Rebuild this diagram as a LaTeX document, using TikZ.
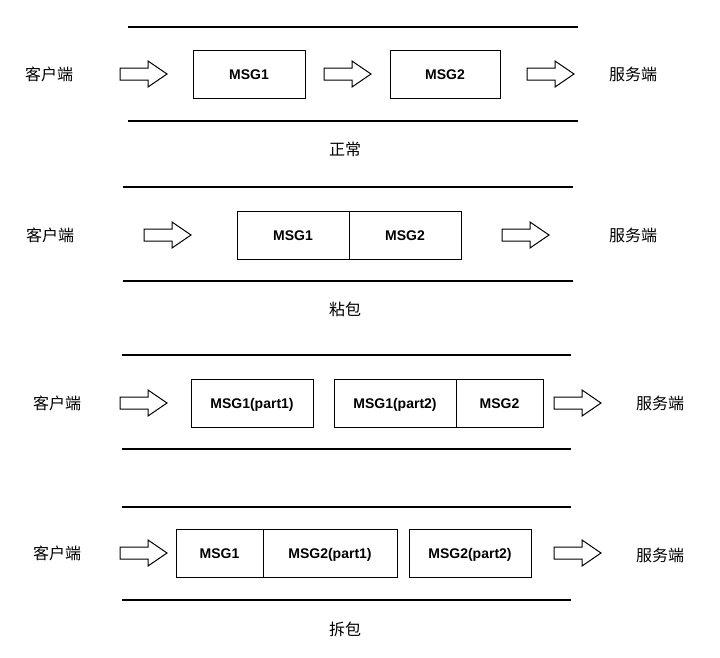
\documentclass[tikz,border=0pt]{standalone}
\usepackage{fontspec}
\setmainfont{Liberation Sans}
\newfontfamily\cjk{Noto Sans CJK SC}
\usetikzlibrary{calc}
\begin{document}
\begin{tikzpicture}[x=1pt,y=-1pt,
  lane/.style={line width=1.6pt},
  msg/.style={draw,line width=1pt,minimum height=48pt,inner sep=0pt,text height=10pt,text depth=0pt,font=\bfseries\fontsize{14}{16}\selectfont},
  harrow/.style={draw,line width=1pt,line join=miter},
  lbl/.style={font=\cjk\fontsize{16}{18}\selectfont}]
\newcommand\harr[1]{\draw[harrow] ($(#1)+(-24,-6)$) -- ++(28,0) -- ++(0,-7) -- ++(19,13) -- ++(-19,13) -- ++(0,-7) -- ++(-28,0) -- cycle;}
\useasboundingbox (0,0) rectangle (720,657);
% row 1
\draw[lane] (128,27) -- (578,27); \draw[lane] (128,121) -- (578,121);
\node[lbl] (c1) at (49,74) {客户端};
\coordinate (a11) at (144,74); \coordinate (a12) at (348,74); \coordinate (a13) at (551,74);
\harr{a11}\harr{a12}\harr{a13}
\node[msg,minimum width=112pt] (m11) at (249,74) {MSG1};
\node[msg,minimum width=110pt] (m12) at (445,74) {MSG2};
\node[lbl] (s1) at (633,74) {服务端};
\node[lbl] (t1) at (345,149) {正常};
% row 2
\draw[lane] (123,187) -- (573,187); \draw[lane] (123,281) -- (573,281);
\node[lbl] (c2) at (50,235) {客户端};
\coordinate (a21) at (168,235); \coordinate (a22) at (526,235);
\harr{a21}\harr{a22}
\node[msg,minimum width=112pt] (m21) at (293,235) {MSG1};
\node[msg,minimum width=112pt] (m22) at (405,235) {MSG2};
\node[lbl] (s2) at (633,235) {服务端};
\node[lbl] (t2) at (345,309) {粘包};
% row 3
\draw[lane] (122,355) -- (571,355); \draw[lane] (122,449) -- (571,449);
\node[lbl] (c3) at (57,403) {客户端};
\coordinate (a31) at (144,403); \coordinate (a32) at (578,403);
\harr{a31}\harr{a32}
\node[msg,minimum width=122pt] (m31) at (252,403) {MSG1(part1)};
\node[msg,minimum width=122pt] (m32) at (395,403) {MSG1(part2)};
\node[msg,minimum width=87pt] (m33) at (499.5,403) {MSG2};
\node[lbl] (s3) at (660,403) {服务端};
% row 4
\draw[lane] (122,507) -- (571,507); \draw[lane] (122,600) -- (571,600);
\node[lbl] (c4) at (57,553) {客户端};
\coordinate (a41) at (144,553); \coordinate (a42) at (578,553);
\harr{a41}\harr{a42}
\node[msg,minimum width=87pt] (m41) at (219.5,553) {MSG1};
\node[msg,minimum width=134pt] (m42) at (330,553) {MSG2(part1)};
\node[msg,minimum width=122pt] (m43) at (470,553) {MSG2(part2)};
\node[lbl] (s4) at (660,555) {服务端};
\node[lbl] (t4) at (345,629) {拆包};
\end{tikzpicture}
\end{document}
